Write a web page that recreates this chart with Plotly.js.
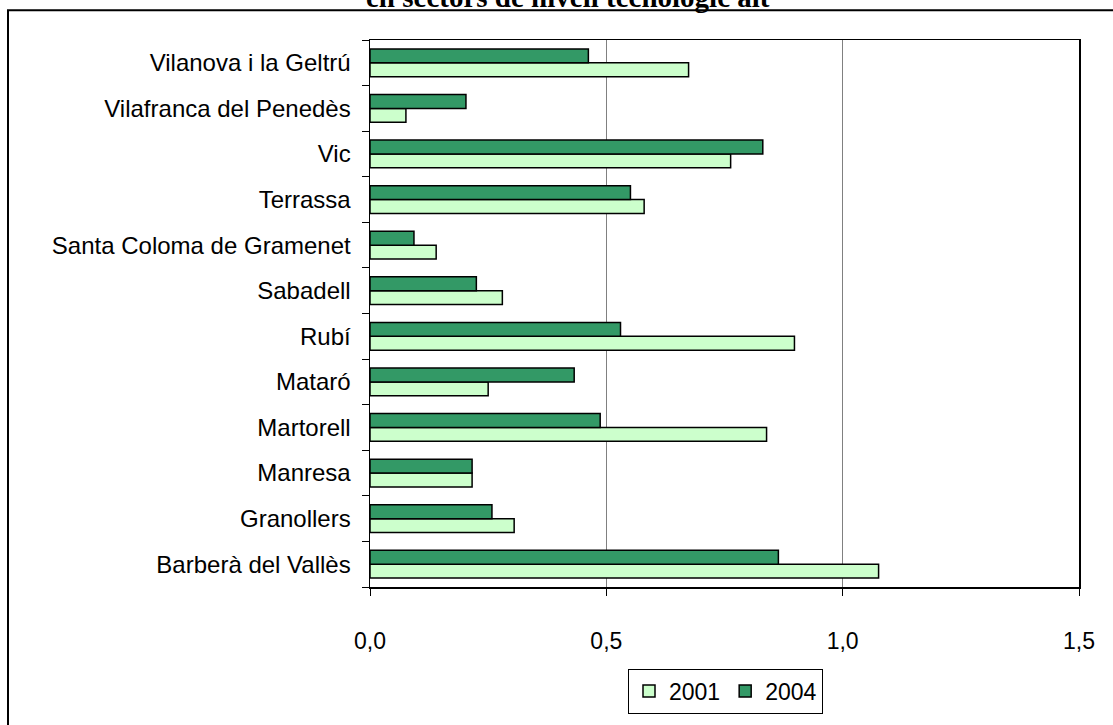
<!DOCTYPE html>
<html>
<head>
<meta charset="utf-8">
<script src="https://cdn.plot.ly/plotly-3.0.1.min.js"></script>
<style>html,body{margin:0;padding:0;background:#fff;}#chart{width:1113px;height:725px;}</style>
</head>
<body>
<div id="chart"></div>
<script>
// Categories from bottom to top
const categories = ["Barberà del Vallès","Granollers","Manresa","Martorell","Mataró","Rubí","Sabadell","Santa Coloma de Gramenet","Terrassa","Vic","Vilafranca del Penedès","Vilanova i la Geltrú"];
const values2001 = [1.076, 0.305, 0.216, 0.839, 0.250, 0.898, 0.280, 0.140, 0.580, 0.763, 0.076, 0.674];
const values2004 = [0.864, 0.258, 0.216, 0.487, 0.432, 0.530, 0.225, 0.093, 0.551, 0.831, 0.203, 0.462];
const seriesNames = ["2001", "2004"];
const titleText = "en sectors de nivell tecnològic alt";
const xTicks = [0, 0.5, 1.0, 1.5];

const W = 1113, H = 725;
const L = 370, R = 1079, T = 40, B = 590;
const pw = R - L, ph = B - T;
const px = v => (v - L) / pw;
const py = v => (B - v) / ph;

const font = "Liberation Sans, Arial, sans-serif";

const traces = [
  {type: "bar", orientation: "h", name: seriesNames[0], y: categories, x: values2001,
   marker: {color: "#CCFFCC", line: {color: "#000", width: 1.5}}, hoverinfo: "x+y"},
  {type: "bar", orientation: "h", name: seriesNames[1], y: categories, x: values2004,
   marker: {color: "#339966", line: {color: "#000", width: 1.5}}, hoverinfo: "x+y"}
];

const layout = {
  width: W, height: H,
  margin: {l: L, r: W - R, t: T, b: H - B, pad: 0},
  paper_bgcolor: "#fff", plot_bgcolor: "#fff",
  separators: ", ",
  barmode: "group", bargap: 0.39, bargroupgap: 0,
  showlegend: true,
  legend: {orientation: "h", x: px(628), y: py(672), xanchor: "left", yanchor: "top",
    bgcolor: "#fff", bordercolor: "#000", borderwidth: 1,
    font: {family: font, size: 23, color: "#000"}, traceorder: "normal"},
  xaxis: {range: [0, 1.5], tickvals: xTicks, tickformat: ".1f", showgrid: true,
    gridcolor: "#808080", gridwidth: 1, zeroline: false,
    showline: true, linecolor: "#000", linewidth: 1.5, mirror: true,
    ticks: "outside", ticklen: 7, tickcolor: "#000", tickwidth: 1,
    ticklabelstandoff: 26,
    tickfont: {family: font, size: 23, color: "#000"}, fixedrange: true},
  yaxis: {type: "category", categoryorder: "array", categoryarray: categories,
    showgrid: false, zeroline: false, showline: true, linecolor: "#000", linewidth: 1.5, mirror: true,
    ticks: "outside", tickson: "boundaries", ticklen: 7, tickcolor: "#000", tickwidth: 1,
    ticklabelstandoff: 13,
    tickfont: {family: font, size: 24, color: "#000"}, fixedrange: true},
  shapes: [
    {type: "rect", xref: "paper", yref: "paper", x0: px(8), x1: px(1140), y0: py(760), y1: py(10),
     line: {color: "#000", width: 2}, fillcolor: "rgba(0,0,0,0)", layer: "below"}
  ],
  annotations: [
    {text: "<b>" + titleText + "</b>", xref: "paper", yref: "paper", x: px(568), y: py(-3),
     xanchor: "center", yanchor: "middle", showarrow: false,
     font: {family: "Liberation Serif, Times New Roman, serif", size: 29, color: "#000"}}
  ]
};

Plotly.newPlot("chart", traces, layout, {displayModeBar: false, staticPlot: true});
</script>
</body>
</html>
